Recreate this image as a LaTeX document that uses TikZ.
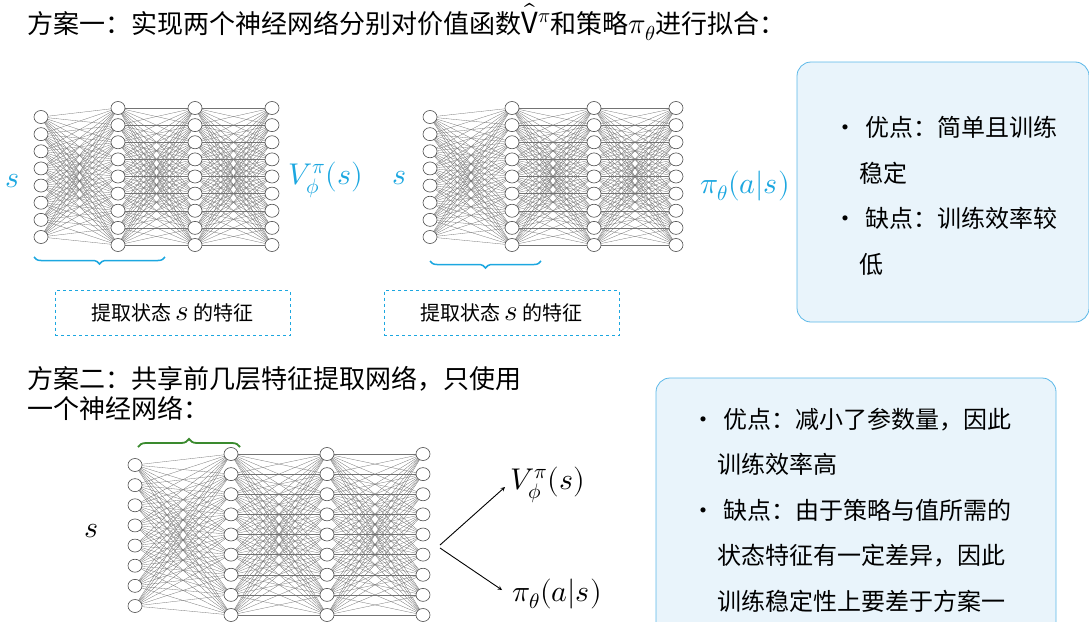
\documentclass[tikz,border=0pt]{standalone}
\usepackage{fontspec}
\usepackage{unicode-math}
\setmainfont{Noto Sans CJK SC}
\setmathfont{Latin Modern Math}
\usetikzlibrary{decorations.pathreplacing}
\definecolor{sblue}{HTML}{1CA7E0}
\definecolor{bfill}{HTML}{E9F4FB}
\definecolor{bdraw}{HTML}{5BB8E8}
\definecolor{sgreen}{HTML}{3A8A2E}
\newcommand\mymath[1]{{\fontsize{29}{30}\selectfont$#1$}}
\tikzset{edge/.style={black!55,line width=0.3pt},
 neu/.style={draw=black!70,fill=white,line width=0.6pt},
 infobox/.style={draw=bdraw,fill=bfill,rounded corners=14pt,line width=0.8pt},
 featbox/.style={draw=sblue,dashed,line width=0.6pt,font=\fontsize{20}{22}\selectfont},
 mfont/.style={font=\fontsize{30}{32}\selectfont},
 ttl/.style={anchor=west,font=\fontsize{26}{30}\selectfont,align=left},
 txt/.style={font=\fontsize{24}{45.5}\selectfont,anchor=west,align=left}}
\newcommand\mynet[7]{%
\begin{scope}
\clip (#1-10,#5-10) rectangle (#7,#6+10);
\foreach \i in {0,...,7}{\foreach \j in {0,...,8}{\draw[edge] (#1,{#3+\i*(#4-#3)/7}) -- ({#1+#2},{#5+\j*(#6-#5)/8});}}
\foreach \l in {1,2}{\foreach \i in {0,...,8}{\foreach \j in {0,...,8}{\draw[edge] ({#1+\l*#2},{#5+\i*(#6-#5)/8}) -- ({#1+(\l+1)*#2},{#5+\j*(#6-#5)/8});}}}
\foreach \i in {0,...,7}{\draw[neu] (#1,{#3+\i*(#4-#3)/7}) ellipse [x radius=7,y radius=6.5];}
\foreach \l in {1,2,3}{\foreach \j in {0,...,8}{\draw[neu] ({#1+\l*#2},{#5+\j*(#6-#5)/8}) ellipse [x radius=7,y radius=6.5];}}
\end{scope}}
\begin{document}
\begin{tikzpicture}[x=1pt,y=-1pt]
\useasboundingbox (0,0) rectangle (1089,621);
\node[ttl] (t1) at (24,22) {方案一：实现两个神经网络分别对价值函数\mymath{\widehat{\mathrm{V}}^{\pi}}和策略\mymath{\pi_\theta}进行拟合：};
\mynet{41}{77}{117}{237}{108}{245}{280}
\mynet{430}{82}{117}{237}{108}{245}{684}
\node[text=sblue,mfont] (s1) at (13,181) {$s$};
\node[text=sblue,mfont] (v1) at (326,180) {$V_\phi^\pi(s)$};
\node[text=sblue,mfont] (s2) at (400,178) {$s$};
\node[text=sblue,mfont] (p1) at (745,186) {$\pi_\theta(a|s)$};
\draw[sblue,line width=1.5pt,decorate,decoration={brace,amplitude=7pt,mirror}] (34,257) -- (165,257);
\draw[sblue,line width=1.5pt,decorate,decoration={brace,amplitude=7pt,mirror}] (430,261) -- (541,261);
\node[featbox,minimum width=235,minimum height=45] (f1) at (172.5,313) {提取状态 \mymath{s} 的特征};
\node[featbox,minimum width=235,minimum height=45] (f2) at (501.5,313) {提取状态 \mymath{s} 的特征};
\draw[infobox] (797,62) rectangle (1089,322);
\node[txt,text width=270] (b1) at (830,196) {•\ 优点：简单且训练\\ \hspace{1.1em}稳定\\ •\ 缺点：训练效率较\\ \hspace{1.1em}低};
\node[ttl] (t2) at (24,393) {方案二：共享前几层特征提取网络，只使用\\一个神经网络：};
\draw[sgreen,line width=1.8pt,decorate,decoration={brace,amplitude=8pt}] (138,447) -- (240,447);
\mynet{135}{96}{465}{606}{454}{615}{431}
\node[mfont] (s3) at (92,531) {$s$};
\coordinate (o1) at (440,545);
\coordinate (o2) at (440,548);
\node[mfont] (v2) at (548,485) {$V_\phi^\pi(s)$};
\node[mfont] (p2) at (557,594) {$\pi_\theta(a|s)$};
\draw[-stealth,line width=0.9pt] (o1) -- (505,487);
\draw[-stealth,line width=0.9pt] (o2) -- (502,590);
\draw[infobox] (656,378) rectangle (1056,640);
\node[txt,text width=380] (b2) at (688,510) {•\ 优点：减小了参数量，因此\\ \hspace{1.1em}训练效率高\\ •\ 缺点：由于策略与值所需的\\ \hspace{1.1em}状态特征有一定差异，因此\\ \hspace{1.1em}训练稳定性上要差于方案一};
\end{tikzpicture}
\end{document}
